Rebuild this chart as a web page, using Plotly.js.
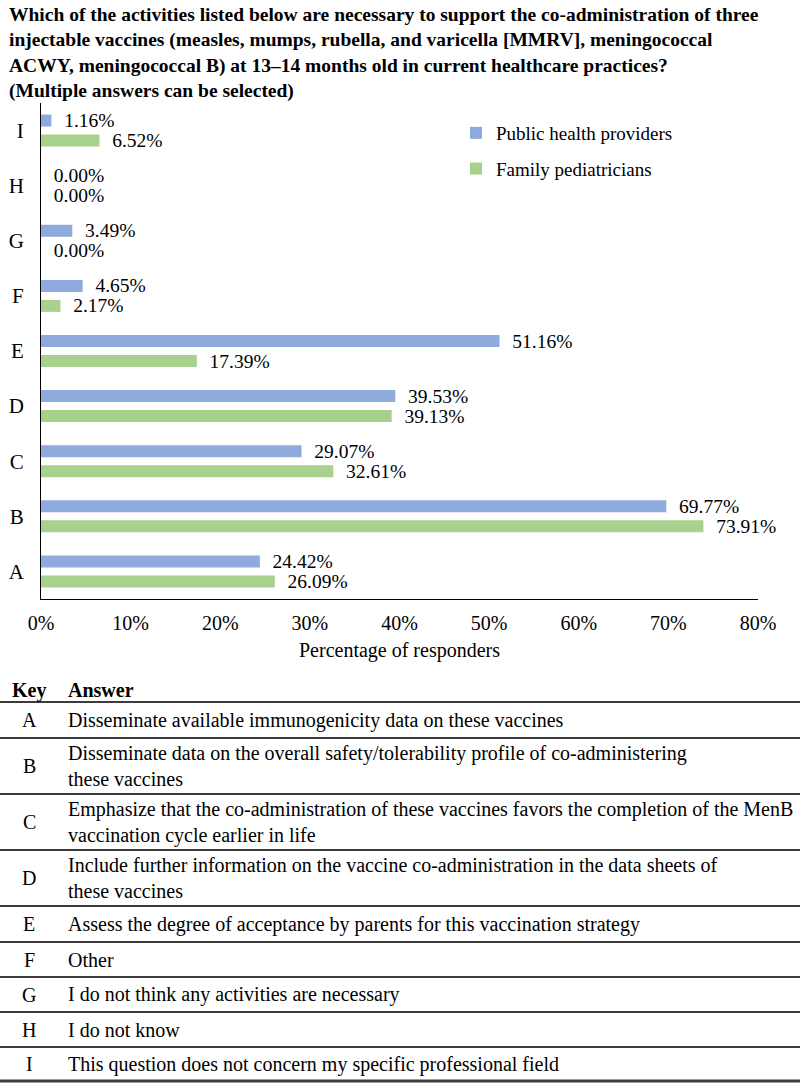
<!DOCTYPE html>
<html>
<head>
<meta charset="utf-8">
<script src="https://cdn.plot.ly/plotly-3.0.1.min.js"></script>
<style>html,body{margin:0;padding:0;background:#fff;}</style>
</head>
<body>
<div id="chart" style="width:800px;height:1085px;"></div>
<script>
// ---- data ----
var categories = ['A', 'B', 'C', 'D', 'E', 'F', 'G', 'H', 'I'];
var publicHealth = [24.42, 69.77, 29.07, 39.53, 51.16, 4.65, 3.49, 0.00, 1.16];
var familyPed = [26.09, 73.91, 32.61, 39.13, 17.39, 2.17, 0.00, 0.00, 6.52];
var seriesNames = ['Public health providers', 'Family pediatricians'];
var xTickVals = [0, 10, 20, 30, 40, 50, 60, 70, 80];
var xTickText = ['0%', '10%', '20%', '30%', '40%', '50%', '60%', '70%', '80%'];
var tableKeys = ['A', 'B', 'C', 'D', 'E', 'F', 'G', 'H', 'I'];
var tableAnswers = [
  'Disseminate available immunogenicity data on these vaccines',
  'Disseminate data on the overall safety/tolerability profile of co-administering<br>these vaccines',
  'Emphasize that the co-administration of these vaccines favors the completion of the MenB<br>vaccination cycle earlier in life',
  'Include further information on the vaccine co-administration in the data sheets of<br>these vaccines',
  'Assess the degree of acceptance by parents for this vaccination strategy',
  'Other',
  'I do not think any activities are necessary',
  'I do not know',
  'This question does not concern my specific professional field'
];
var titleText = '<b>Which of the activities listed below are necessary to support the co-administration of three<br>' +
  'injectable vaccines (measles, mumps, rubella, and varicella [MMRV], meningococcal<br>' +
  'ACWY, meningococcal B) at 13\u201314 months old in current healthcare practices?<br>' +
  '(Multiple answers can be selected)</b>';

// ---- layout helpers ----
var W = 800, H = 1085;
var M = {l: 41, r: 42, t: 103, b: 486};
var plotW = W - M.l - M.r, plotH = H - M.t - M.b;
function PX(px) { return (px - M.l) / plotW; }
function PY(py) { return (H - M.b - py) / plotH; }

var FONT = 'Liberation Serif, Times New Roman, Times, serif';
var blue = '#8FAADC', green = '#A9D18E';

var traceFamily = {
  type: 'bar', orientation: 'h', name: seriesNames[1], legendgroup: 'g2', legendrank: 2,
  y: categories, x: familyPed,
  marker: {color: green},
  texttemplate: '\u00a0\u00a0%{x:.2f}%', textposition: 'outside',
  textfont: {family: FONT, size: 19.5, color: '#000'},
  cliponaxis: false, constraintext: 'none', hoverinfo: 'skip'
};
var tracePublic = {
  type: 'bar', orientation: 'h', name: seriesNames[0], legendgroup: 'g1', legendrank: 1,
  y: categories, x: publicHealth,
  marker: {color: blue},
  texttemplate: '\u00a0\u00a0%{x:.2f}%', textposition: 'outside',
  textfont: {family: FONT, size: 19.5, color: '#000'},
  cliponaxis: false, constraintext: 'none', hoverinfo: 'skip'
};

// table shapes and annotations
var rowLines = [702, 738, 794, 850, 906, 942, 977, 1012, 1047, 1081];
var shapes = [];
rowLines.forEach(function (py, i) {
  shapes.push({
    type: 'line', xref: 'paper', yref: 'paper',
    x0: PX(0), x1: PX(800), y0: PY(py), y1: PY(py),
    line: {color: '#3c3c3c', width: (i === rowLines.length - 1) ? 3 : 2}
  });
});
var annotations = [
  {text: titleText, x: PX(7), y: PY(2), xref: 'paper', yref: 'paper', xanchor: 'left', yanchor: 'top', align: 'left', showarrow: false, font: {family: FONT, size: 19.5, color: '#000'}},
  {text: '<b>Key</b>', x: PX(29), y: PY(690), xref: 'paper', yref: 'paper', xanchor: 'center', yanchor: 'middle', showarrow: false, font: {family: FONT, size: 20, color: '#000'}},
  {text: '<b>Answer</b>', x: PX(66), y: PY(690), xref: 'paper', yref: 'paper', xanchor: 'left', yanchor: 'middle', showarrow: false, font: {family: FONT, size: 20, color: '#000'}}
];
for (var i = 0; i < tableKeys.length; i++) {
  var cy = (rowLines[i] + rowLines[i + 1]) / 2;
  annotations.push({text: tableKeys[i], x: PX(29), y: PY(cy), xref: 'paper', yref: 'paper', xanchor: 'center', yanchor: 'middle', showarrow: false, font: {family: FONT, size: 20, color: '#000'}});
  annotations.push({text: tableAnswers[i], x: PX(66), y: PY(cy), xref: 'paper', yref: 'paper', xanchor: 'left', yanchor: 'middle', align: 'left', showarrow: false, font: {family: FONT, size: 20, color: '#000'}});
}

var layout = {
  width: W, height: H,
  margin: M,
  paper_bgcolor: '#fff', plot_bgcolor: '#fff',
  font: {family: FONT, color: '#000', size: 19},
  barmode: 'group', bargap: 0.274, bargroupgap: 0.4,
  showlegend: true,
  legend: {
    x: PX(456), y: PY(114), xanchor: 'left', yanchor: 'top',
    traceorder: 'grouped', tracegroupgap: 8,
    font: {family: FONT, size: 19, color: '#000'},
    bgcolor: 'rgba(0,0,0,0)'
  },
  xaxis: {
    range: [0, 80], tickvals: xTickVals, ticktext: xTickText,
    showgrid: false, zeroline: false, showline: true, linecolor: '#000', linewidth: 1,
    ticks: '', ticklabelstandoff: 6,
    tickfont: {family: FONT, size: 20, color: '#000'},
    title: {text: 'Percentage of responders', font: {family: FONT, size: 20, color: '#000'}, standoff: 9},
    fixedrange: true
  },
  yaxis: {
    type: 'category', range: [-0.5, 8.5],
    showgrid: false, zeroline: false, showline: true, linecolor: '#000', linewidth: 1,
    ticks: '', ticklabelstandoff: 12,
    tickfont: {family: FONT, size: 21, color: '#000'},
    fixedrange: true
  },
  shapes: shapes,
  annotations: annotations
};

Plotly.newPlot('chart', [traceFamily, tracePublic], layout, {displayModeBar: false, staticPlot: true});
</script>
</body>
</html>
